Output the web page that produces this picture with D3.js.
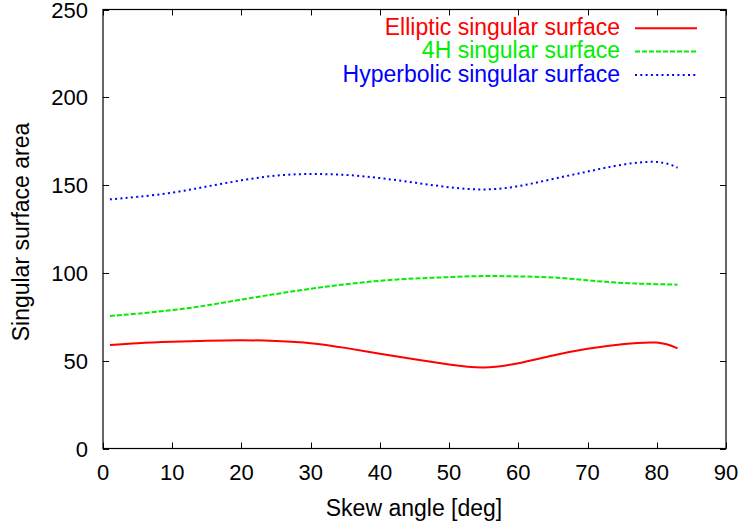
<!DOCTYPE html>
<html><head><meta charset="utf-8">
<script src="https://cdn.jsdelivr.net/npm/d3@7"></script>
<style>body{margin:0;background:#fff}svg{display:block}text{font-family:"Liberation Sans",Arial,sans-serif}</style>
</head><body>
<svg id="c" width="742" height="529"></svg>
<script>
const angles = [1,5,10,15,20,25,30,35,40,45,50,55,60,65,70,75,80,83];
const elliptic = [59.0,60.0,60.8,61.4,61.7,61.2,60.0,57.3,54.0,50.8,47.8,46.1,48.6,53.0,56.8,59.4,60.3,57.0];
const fourH = [75.5,76.8,78.8,81.5,84.8,88.0,91.0,93.5,95.5,96.8,97.6,98.2,98.0,97.4,95.8,94.3,93.6,93.3];
const hyperbolic = [141.9,143.3,145.7,149.2,152.7,155.4,156.3,155.8,154.0,151.4,148.8,147.5,149.4,153.5,157.7,161.6,163.2,159.9];
const xTicks = [0,10,20,30,40,50,60,70,80,90];
const yTicks = [0,50,100,150,200,250];
const seriesNames = ["Elliptic singular surface","4H singular surface","Hyperbolic singular surface"];
const seriesColors = ["#ff0000","#00ee00","#0000ff"];
const seriesDash = [null,"5,2","2,3.3"];
const seriesData = [elliptic, fourH, hyperbolic];

const L=103,R=726,T=9.5,B=448.5;
const svg=d3.select("#c");
const x=d3.scaleLinear().domain([0,90]).range([L,R]);
const y=d3.scaleLinear().domain([0,250]).range([B,T]);
const fs=23, tfs=22;

// ticks (inward, mirrored)
const tk=svg.append("g").attr("stroke","#000").attr("stroke-width",1);
xTicks.forEach(v=>{
  const px=Math.round(x(v))+0.5;
  tk.append("line").attr("x1",px).attr("x2",px).attr("y1",B).attr("y2",B-6);
  tk.append("line").attr("x1",px).attr("x2",px).attr("y1",T).attr("y2",T+6);
});
yTicks.forEach(v=>{
  const py=Math.round(y(v))+0.5;
  tk.append("line").attr("x1",L).attr("x2",L+6).attr("y1",py).attr("y2",py);
  tk.append("line").attr("x1",R).attr("x2",R-6).attr("y1",py).attr("y2",py);
});
svg.append("rect").attr("x",L).attr("y",T).attr("width",R-L).attr("height",B-T)
  .attr("fill","none").attr("stroke","#000").attr("stroke-width",1.2);

// tick labels
svg.append("g").selectAll("text").data(xTicks).join("text")
  .attr("x",d=>x(d)).attr("y",480).attr("text-anchor","middle").attr("font-size",tfs).text(d=>d);
svg.append("g").selectAll("text").data(yTicks).join("text")
  .attr("x",88).attr("y",d=>y(d)+8).attr("text-anchor","end").attr("font-size",tfs).text(d=>d);

// axis titles
svg.append("text").attr("x",414).attr("y",516).attr("text-anchor","middle").attr("font-size",fs).text("Skew angle [deg]");
svg.append("text").attr("transform","translate(28.5,232) rotate(-90)").attr("text-anchor","middle").attr("font-size",fs).text("Singular surface area");

// lines
const line=d3.line().x((d,i)=>x(angles[i])).y(d=>y(d)).curve(d3.curveNatural);
seriesData.forEach((s,k)=>{
  svg.append("path").datum(s).attr("d",line).attr("fill","none")
    .attr("stroke",seriesColors[k]).attr("stroke-width",2)
    .attr("stroke-dasharray",seriesDash[k]);
});

// legend
seriesNames.forEach((n,k)=>{
  const base=35+k*23.3;
  svg.append("text").attr("x",620).attr("y",base).attr("text-anchor","end")
    .attr("font-size",fs).attr("fill",seriesColors[k]).text(n);
  svg.append("line").attr("x1",635).attr("x2",697).attr("y1",base-6.7).attr("y2",base-6.7)
    .attr("stroke",seriesColors[k]).attr("stroke-width",2).attr("stroke-dasharray",seriesDash[k]);
});
</script>
</body></html>
